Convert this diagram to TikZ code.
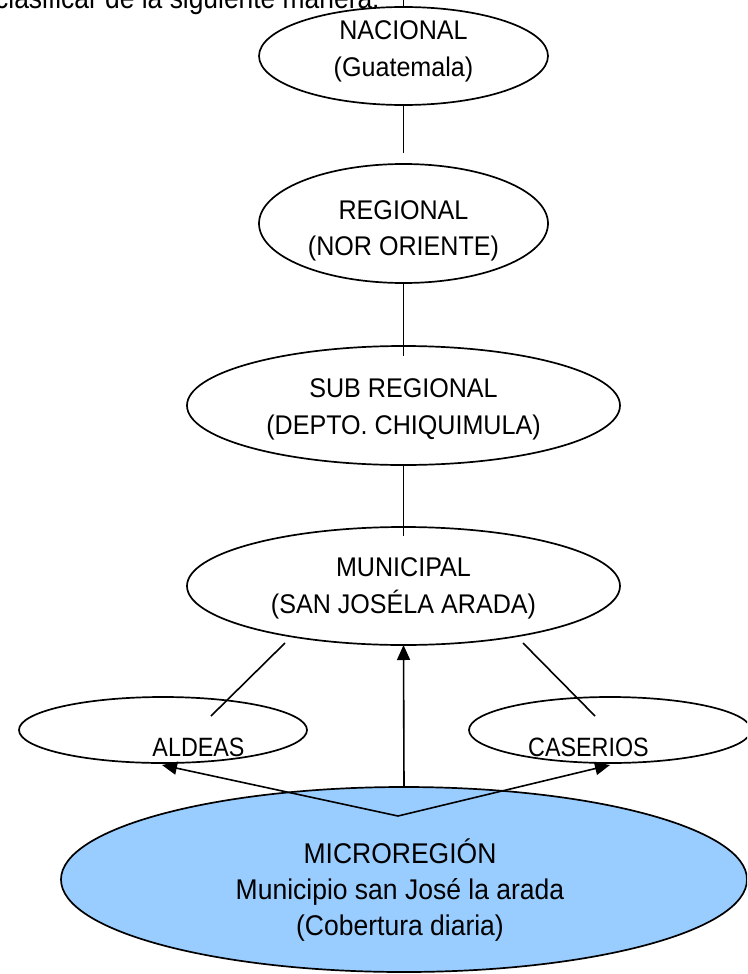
\documentclass[tikz,border=0pt]{standalone}
\usepackage{fontspec}
\setmainfont[FakeStretch=0.88]{Liberation Sans}
\newfontfamily\widefont[FakeStretch=0.93]{Liberation Sans}
\usetikzlibrary{shapes.geometric,arrows.meta}
\definecolor{microblue}{RGB}{153,204,255}
\begin{document}
\begin{tikzpicture}[x=1pt,y=-1pt,
  ell/.style={draw,ellipse,inner sep=0pt,outer sep=0pt,line width=1.7pt},
  txt/.style={inner sep=0pt,anchor=base,font=\widefont\fontsize{27}{32}\selectfont},
  smalltxt/.style={inner sep=0pt,anchor=base,font=\fontsize{26.5}{32}\selectfont},
  bigtxt/.style={inner sep=0pt,anchor=base,font=\widefont\fontsize{28.5}{34}\selectfont},
  body/.style={inner sep=0pt,anchor=base west,font=\fontsize{30}{36}\selectfont},
  conn/.style={line width=1.6pt},
  arr/.style={line width=1.6pt,-{Triangle[length=15pt,width=13pt]}}]
\useasboundingbox (0,0) rectangle (747,974);
\clip (0,0) rectangle (747,974);
% intro text (cut off at top in the original)
\node[body] (intro) at (-5,9) {clasificar de la siguiente manera.};
% ellipses
\node[ell,minimum width=289pt,minimum height=98pt] (nac) at (403.5,56) {};
\node[ell,minimum width=289pt,minimum height=119pt] (reg) at (403.5,223.5) {};
\node[ell,minimum width=433pt,minimum height=119pt] (sub) at (403.5,405.5) {};
\node[ell,minimum width=433pt,minimum height=118pt] (mun) at (403.5,586) {};
\node[ell,minimum width=288pt,minimum height=66pt] (ald) at (163,730) {};
\node[ell,minimum width=282pt,minimum height=66pt] (cas) at (610,730) {};
\node[ell,fill=microblue,minimum width=686pt,minimum height=185pt] (mic) at (404,879.5) {};
% texts
\node[txt] (nac1) at (403.5,40) {NACIONAL};
\node[txt] (nac2) at (403.5,77) {(Guatemala)};
\node[txt] (reg1) at (403.5,219) {REGIONAL};
\node[txt] (reg2) at (403.5,255) {(NOR ORIENTE)};
\node[txt] (sub1) at (403.5,397) {SUB REGIONAL};
\node[txt] (sub2) at (403.5,434) {(DEPTO. CHIQUIMULA)};
\node[txt] (mun1) at (403.5,576) {MUNICIPAL};
\node[txt] (mun2) at (403.5,613) {(SAN JOSÉLA ARADA)};
\node[smalltxt] (ald1) at (198.5,756) {ALDEAS};
\node[smalltxt] (cas1) at (588.5,756) {CASERIOS};
\node[bigtxt] (mic1) at (400,863) {MICROREGIÓN};
\node[bigtxt] (mic2) at (400,899) {Municipio san José la arada};
\node[bigtxt] (mic3) at (400,935) {(Cobertura diaria)};
% free ends
\coordinate (ctop) at (403.5,0);
\coordinate (c1) at (403.5,153);
\coordinate (c2) at (403.5,356);
\coordinate (c3) at (403.5,536);
\coordinate (ml) at (285,643);
\coordinate (al) at (211,716);
\coordinate (mr) at (523,643);
\coordinate (ar) at (595,716);
\coordinate (v) at (398,816);
\coordinate (tl) at (162,765);
\coordinate (tr) at (610,765);
% connectors
\draw[conn] (nac.north) -- (ctop);
\draw[conn] (nac.south) -- (c1);
\draw[conn] (reg.south) -- (c2);
\draw[conn] (sub.south) -- (c3);
\draw[conn] (ml) -- (al);
\draw[conn] (mr) -- (ar);
\draw[arr] (mic.north) -- (mun.south);
\draw[arr] (v) -- (tl);
\draw[arr] (v) -- (tr);
\end{tikzpicture}
\end{document}
